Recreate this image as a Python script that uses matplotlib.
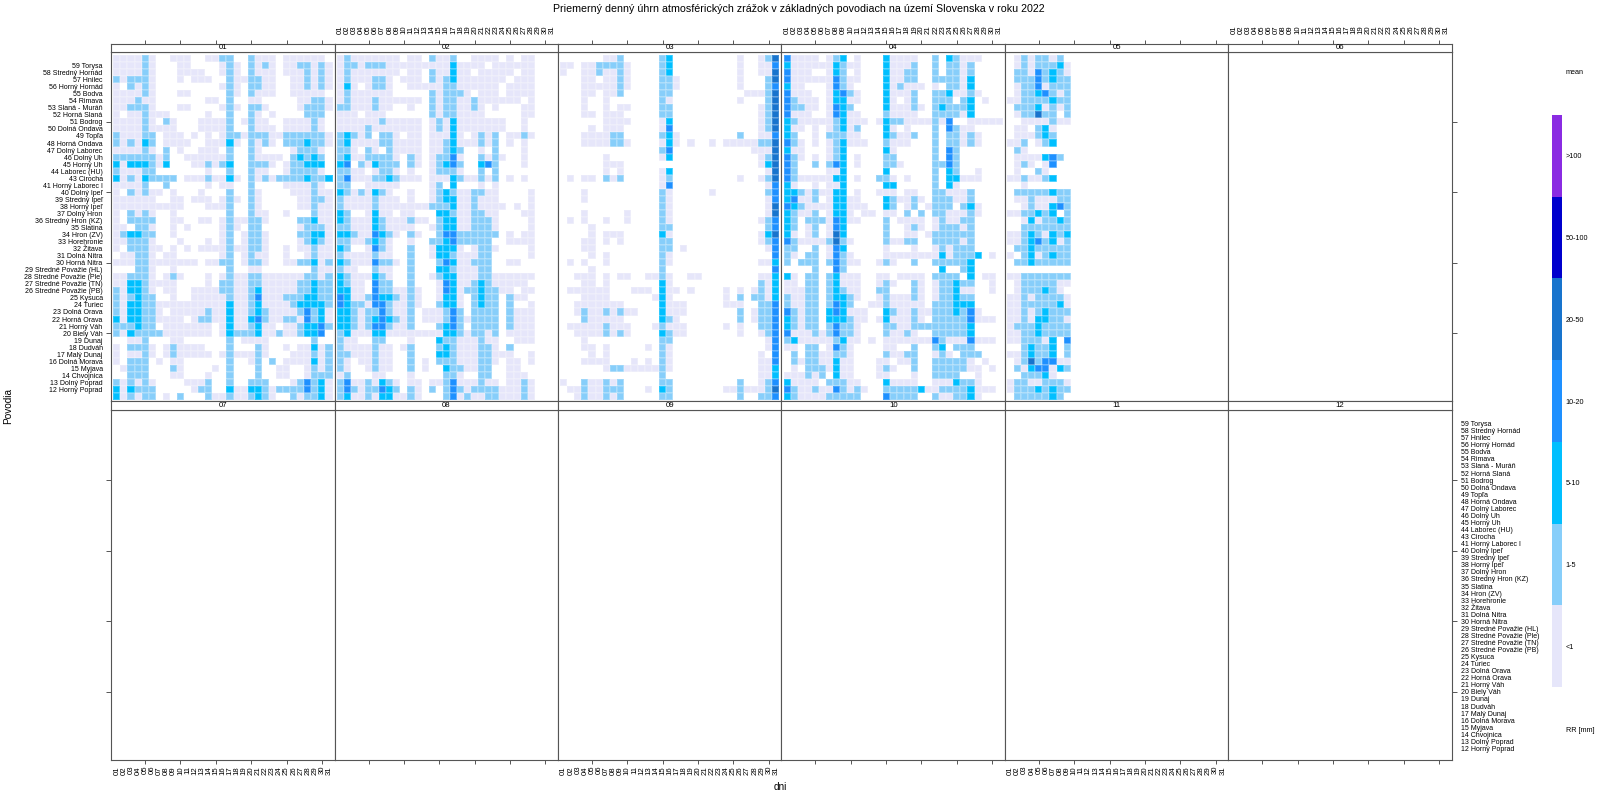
import numpy as np
import matplotlib
matplotlib.use("Agg")
import matplotlib.pyplot as plt
from matplotlib.colors import ListedColormap, BoundaryNorm

plt.rcParams['font.family'] = ['Liberation Sans', 'DejaVu Sans']

TITLE = "Priemerný denný úhrn atmosférických zrážok v základných povodiach na území Slovenska v roku 2022"
basins = ["", "59 Torysa", "58 Stredný Hornád", "57 Hnilec", "56 Horný Hornád", "55 Bodva", "54 Rimava",
          "53 Slaná - Muráň", "52 Horná Slaná", "51 Bodrog", "50 Dolná Ondava", "49 Topľa", "48 Horná Ondava",
          "47 Dolný Laborec", "46 Dolný Uh", "45 Horný Uh", "44 Laborec (HU)", "43 Cirocha", "41 Horný Laborec I",
          "40 Dolný Ipeľ", "39 Stredný Ipeľ", "38 Horný Ipeľ", "37 Dolný Hron", "36 Stredný Hron (KZ)", "35 Slatina",
          "34 Hron (ZV)", "33 Horehronie", "32 Žitava", "31 Dolná Nitra", "30 Horná Nitra",
          "29 Stredné Považie (HL)", "28 Stredné Považie (Ple)", "27 Stredné Považie (TN)", "26 Stredné Považie (PB)",
          "25 Kysuca", "24 Turiec", "23 Dolná Orava", "22 Horná Orava", "21 Horný Váh", "20 Biely Váh", "19 Dunaj",
          "18 Dudváh", "17 Malý Dunaj", "16 Dolná Morava", "15 Myjava", "14 Chvojnica", "13 Dolný Poprad",
          "12 Horný Poprad", ""]
months = ["01", "02", "03", "04", "05", "06", "07", "08", "09", "10", "11", "12"]
days = [f"{d:02d}" for d in range(1, 32)]
class_labels = ["<1", "1-5", "5-10", "10-20", "20-50", "50-100", ">100"]
class_colors = ["#E6E6FA", "#87CEFA", "#00BFFF", "#1E90FF", "#1874CD", "#0000CD", "#8A2BE2"]

# rainfall class per basin (rows) and day (columns): 0 none, 1 <1, 2 1-5, 3 5-10, 4 10-20, 5 20-50
jan = """11112 10011 10011 22002 11101 11111 0
11112 10001 10000 12102 12101 12212 1
11112 10001 11100 12102 11101 11212 1
21222 10001 01110 02112 21100 11212 1
10212 10000 00000 12102 21100 11212 1
11112 10001 10000 02102 11100 11111 0
11121 10000 00011 02001 10000 01122 1
11222 10001 10000 12102 21000 01222 1
10112 11100 00010 02002 10100 00222 0
11112 10210 00111 12012 11001 11121 0
11112 11110 00111 12002 11101 11121 0
21112 20111 01010 12212 22112 22222 1
21213 20111 10011 13102 12102 22322 1
11112 10201 00111 02002 10000 12221 0
22222 21200 11111 12002 11110 23232 0
31333 21300 01121 23002 22101 22333 0
21112 20000 00010 02002 11001 22221 0
31213 22220 11121 13102 12122 22322 3
11112 00200 00010 11002 00001 11121 0
10212 11010 00100 02002 10000 11121 1
11111 10011 01110 12102 10000 01122 1
11111 11111 00011 12002 10000 01121 1
10212 10010 00000 02002 11001 00021 1
10222 20011 00110 12112 21000 02231 1
11022 10010 10000 12102 20000 01222 1
12332 20010 00000 12012 21000 02233 1
11222 10001 00010 12012 21000 01232 1
10222 11010 10111 12112 21001 01121 1
01122 10110 00000 12012 11001 00121 1
11122 11111 11011 22012 21001 12231 2
00022 10010 00000 02001 10000 00021 1
11222 10121 00010 12112 21111 11221 2
11332 11110 00010 22112 21111 12232 2
21332 10110 01111 22112 31111 12232 2
21232 20010 01111 12112 41112 22332 2
21332 21111 11111 13112 31111 23333 2
21332 21011 11121 13112 32111 12423 1
31332 21111 01221 13113 42112 21423 1
22232 20111 11110 13112 31101 12334 2
21322 22111 11110 13222 31121 12334 0
00112 00011 00000 02011 11000 00020 0
10222 10121 11100 02000 21001 01131 2
10112 10121 11110 12111 21000 11121 2
10222 01011 00000 02001 20201 11131 2
01222 00021 00001 02000 20011 00121 2
00222 00011 00010 02000 20011 00122 2
21212 10000 11120 02002 22000 12423 1
31322 20000 01220 03113 32122 22423 1
31212 20102 00021 12112 32100 21223 1"""

feb = """12111 11110 11021 12001 11101 01100 0
12212 22111 11111 13111 10111 11100 0
12111 11110 11021 13110 11111 01100 0
12111 22101 11021 23111 11110 11100 0
13101 22100 11111 22111 11101 11100 0
12111 11100 00021 22210 11101 11100 0
12111 21111 11021 22112 11111 10100 0
22111 21100 10021 22112 10100 01100 0
11101 11000 00021 22111 10000 01100 0
11111 12111 11012 13111 11110 01000 0
11112 11111 11012 13111 11110 01000 0
23212 02210 11011 13101 21201 12100 0
23111 12211 11011 23111 21201 01000 0
22102 10211 11011 23200 10200 01000 0
23112 22210 21012 24100 21210 01000 0
34021 32220 21012 34200 34200 01000 0
22110 12210 10012 22100 20200 00000 0
24111 22321 11011 13211 21201 01000 0
22001 11110 00012 03000 10100 00000 0
32121 32100 10012 32112 21100 00100 0
21111 21110 10012 33112 11100 00100 0
21111 21111 11122 23112 11110 10100 0
32001 31101 10003 32112 21100 01100 0
32111 32111 21102 33112 22100 00100 0
22111 32111 10012 33112 22100 00100 0
33211 43210 21002 44222 22201 01100 0
22112 32100 10022 34222 22001 11100 0
32001 42100 20013 33101 22100 00100 0
21111 21100 20013 32111 22000 00100 0
32111 42210 20002 43112 22001 10000 0
21100 21100 20003 32111 22000 00000 0
32111 32100 20012 33111 22111 11100 0
32110 42200 20001 43112 32111 11000 0
33110 42211 21001 43122 32211 01100 0
43112 43321 21001 33102 32202 11000 0
43221 44211 21002 33102 32202 00100 0
33212 24211 20111 24202 22202 11100 0
33212 34321 20111 24212 22202 11100 0
33212 44211 20002 34202 22202 11100 0
23111 33111 11111 33212 21201 11100 0
21100 22000 10003 22111 21100 11100 0
21111 21101 20002 32111 22102 00000 0
22111 21100 20003 32111 22111 00100 0
21011 21100 20102 22111 22101 10100 0
21001 21100 20100 32211 22001 10000 0
12000 11000 10000 22100 22001 11000 0
24112 13210 11011 24111 21101 12100 0
24212 24320 21020 24212 22211 12100 0
23112 13311 21000 24121 12211 12100 0"""

mar = """00000 01120 00002 30000 00000 10012 5
11011 22221 00002 30000 00000 10011 4
10011 21121 00002 30000 00000 10011 5
00011 01121 00002 21000 00000 10002 5
00011 11121 00002 21000 00000 10002 4
00011 01120 00002 20000 00000 01112 5
00010 01000 00002 10000 00000 10002 5
00010 01011 00002 20000 00000 00012 5
00011 01110 00002 20000 00000 00012 5
00000 01111 00001 30000 00000 00012 5
00001 01110 00001 40000 00000 00012 5
00011 11220 00002 31000 00000 20011 4
00011 11221 00001 31010 01011 11122 5
00000 00000 00002 40000 00000 00111 5
00000 01000 00001 30000 00000 00012 5
00000 01110 00000 00000 00000 00013 5
00000 01010 00001 30000 00000 00001 5
01011 02120 00001 20000 00000 10012 5
00000 00000 00001 40000 00000 00001 4
00010 00000 00002 10000 01000 00002 4
00010 00000 00002 10000 00000 00001 4
00000 00000 00002 10000 00000 00001 5
00010 00001 00002 10000 00000 00001 5
01010 01001 00002 10000 00000 00012 4
00001 00000 00002 20000 00000 00002 4
00001 01110 00003 10000 00000 00013 5
00011 01010 00002 20000 00000 00012 4
00011 00000 00002 20100 00000 00001 4
00001 01000 00002 10000 00000 00000 4
01010 01000 00002 10000 00000 00011 3
00001 00000 00002 00000 00000 00000 4
00111 01011 00112 10011 00000 00011 3
00011 01000 00003 10000 00000 00021 3
01111 11000 11103 11010 00010 10121 3
00011 11000 00013 10000 00010 20221 3
00111 11110 00003 11100 00011 10022 4
00121 12121 10003 11100 00000 20122 4
00021 11110 00003 21000 00000 20122 4
01111 12111 00012 11100 00010 10022 4
00111 12121 00003 21100 00000 10012 4
00010 00000 00002 20000 00000 00001 4
00011 01000 00102 10000 00000 00001 4
00001 01000 00002 10000 00000 00010 4
00011 11000 10102 10000 00000 00011 4
00000 01221 11112 10000 00000 00011 3
00000 00000 00002 00000 00000 00011 3
10021 12120 00002 20000 00000 20012 4
01121 12220 00103 20000 00011 21112 5
00121 12120 00002 20000 00000 20022 4"""

apr = """41111 01230 10003 11110 02032 11100 0
31111 11321 10003 11120 02022 12000 0
41110 01320 10003 11220 02022 12000 0
41111 11421 10003 11220 02222 13000 0
31100 01421 00003 12111 01022 13000 0
41110 01342 10003 11120 02231 12100 0
42111 01331 10003 10120 02220 23010 0
42211 01432 00003 11121 02322 23000 0
41110 01431 10002 11110 02222 13000 0
32111 11231 11013 22111 12140 01111 1
31101 01231 20003 10100 02042 11000 0
32001 02221 10003 21120 02022 12100 0
42101 01231 11002 11100 02022 12100 0
31100 01230 00003 10000 02042 00000 0
42101 01230 10002 20000 02042 00000 0
42002 02430 10002 21000 02242 00000 0
42000 01130 00003 00000 02032 00100 0
42111 11330 10022 10100 02033 11100 0
31001 01130 00003 30000 02031 00000 0
33212 11330 10011 10110 02211 12000 0
34112 01331 10003 21121 02221 12000 0
43211 11331 11003 20120 12220 23100 0
32112 01331 01101 10202 02211 12100 0
32022 21431 10002 01111 01211 22000 0
32012 01430 00002 00121 01222 12000 0
31012 01530 00002 00110 12222 22000 0
42111 12521 00002 11220 02222 12000 0
22002 01430 00001 00010 01212 22000 0
21022 01421 00001 11111 11312 22301 0
20222 02421 10012 10020 02222 23000 0
00002 00420 00000 00000 00300 23000 0
31022 02311 10011 01111 02222 03011 0
11022 02311 10012 10021 01223 22001 0
11122 02321 10022 00021 01223 11001 0
21122 02332 10012 11121 01223 22000 0
21122 02432 00112 11111 02223 33000 0
42122 03431 11003 21121 12223 24100 0
32122 03332 11013 11121 02222 24111 0
32122 02422 10002 21122 22222 23000 0
41112 12422 10002 11210 02222 23000 0
23111 11231 10101 11111 14211 14111 0
11022 01421 00001 10020 02302 22000 0
02022 11221 00002 11220 01210 22200 0
02122 11311 00011 01120 02222 21010 0
01022 21311 00012 10020 02222 21101 0
11121 20311 00011 00010 02222 00100 0
31111 02221 10003 11110 01113 22100 0
42112 11421 21002 22223 11222 23111 0
32111 12222 20004 22220 02112 23100 0"""

may = """01212 21200
01212 22310
02214 23210
02224 23220
01224 12220
01223 42120
11222 23220
02223 12120
01225 22020
00111 12110
01102 31000
01112 32000
11201 23000
02100 00000
01111 34200
01210 14000
01002 10000
11211 23000
00100 00000
02222 23220
01121 11220
00121 13420
11223 23020
00131 22320
00222 22220
11232 13230
11234 23120
02232 22220
10231 23220
02232 22220
00000 00000
11222 22220
01222 22110
01222 32100
11212 22210
11222 22310
11212 32220
11213 32210
12223 22220
11223 22220
11222 13040
00232 23020
11232 23020
01252 44110
02134 41320
00222 31000
12211 22210
12223 23220
02222 23200"""

monthly = {0: jan, 1: feb, 2: mar, 3: apr, 4: may}


def to_matrix(text):
    rows = [ln.replace(" ", "").ljust(31, "0")[:31] for ln in text.splitlines()]
    rows = (rows + ["0" * 31] * 49)[:49]
    return np.ma.masked_equal(np.array([[int(c) for c in r] for r in rows]), 0)


W, H = 1600, 800
fig = plt.figure(figsize=(16, 8), dpi=100)
INK = "#555555"
FS = 5.0
XFS = 5.6
PX = 72 / 100


def axes_px(x0, y0, x1, y1):
    return fig.add_axes([x0 / W, 1 - y1 / H, (x1 - x0) / W, (y1 - y0) / H])


cmap = ListedColormap(class_colors)
norm = BoundaryNorm(np.arange(0.5, 8.5), cmap.N)
X0, PW = 111.2, 223.43
ROWS = [(43.5, 52, 401), (401, 410, 760)]
xl = (0.5 - 2.1 / 7.13, 31.5 + 2.1 / 7.13)
yl = (49 + 1 / 7.04, -3 / 7.04)
xe = np.arange(0.5, 32.5)
ye = np.arange(0, 50)
xc = np.arange(1, 32)
yc = np.arange(49) + 0.5
xminor = [5, 10, 15, 20, 25, 30]
yminor = [9.5, 19.5, 29.5, 39.5]

for m, label in enumerate(months):
    row, col = divmod(m, 6)
    top, mid, bot = ROWS[row]
    x0, x1 = X0 + col * PW, X0 + (col + 1) * PW
    ax = axes_px(x0, mid, x1, bot)
    st = axes_px(x0, top, x1, mid)
    for a in (ax, st):
        a.set_xlim(*xl)
        a.xaxis.remove_overlapping_locs = False
        a.yaxis.remove_overlapping_locs = False
        for s in a.spines.values():
            s.set_color(INK)
            s.set_linewidth(0.8)
        a.tick_params(which="both", colors=INK, width=0.7, labelcolor="black")
        a.set_xticks([])
        a.set_yticks([])
    ax.set_ylim(*yl)
    st.set_ylim(0, 1)
    st.text(0.5, 0.5, label, transform=st.transAxes, ha="center", va="center", fontsize=XFS)
    if m in monthly:
        ax.pcolormesh(xe, ye, to_matrix(monthly[m]), cmap=cmap, norm=norm,
                      edgecolors=(1, 1, 1, 0.18), linewidth=0.3)
    # x axis
    xaxis_ax = st if row == 0 else ax
    labelled = (col % 2 == 1) if row == 0 else (col % 2 == 0)
    xaxis_ax.set_xticks(xminor, minor=True)
    if labelled:
        xaxis_ax.set_xticks(xc)
        xaxis_ax.set_xticklabels(days, rotation=90, fontsize=XFS)
    if row == 0:
        xaxis_ax.xaxis.tick_top()
        xaxis_ax.tick_params(axis="x", which="minor", top=True, bottom=False, length=4 * PX)
        xaxis_ax.tick_params(axis="x", which="major", top=False, bottom=False, length=0,
                             labeltop=labelled, labelbottom=False, pad=9 * PX)
    else:
        xaxis_ax.tick_params(axis="x", which="minor", bottom=True, top=False, length=4 * PX)
        xaxis_ax.tick_params(axis="x", which="major", bottom=False, length=0,
                             labelbottom=labelled, pad=6 * PX)
    # y axis
    if col in (0, 5):
        ax.set_yticks(yminor, minor=True)
    if col == 0:
        ax.tick_params(axis="y", which="minor", left=True, right=False, length=5 * PX)
        if row == 0:
            ax.set_yticks(yc)
            ax.set_yticklabels(basins, fontsize=FS)
            ax.tick_params(axis="y", which="major", left=False, length=0, pad=8.5 * PX)
    if col == 5:
        ax.yaxis.tick_right()
        ax.tick_params(axis="y", which="minor", right=True, left=False, length=5 * PX)
        if row == 1:
            ax.set_yticks(yc)
            ax.set_yticklabels(basins, fontsize=FS)
            ax.tick_params(axis="y", which="major", right=False, left=False, length=0,
                           labelright=True, labelleft=False, pad=9 * PX)

# legend key
key = axes_px(1552.3, 115, 1562.3, 687)
levels = np.arange(1, 8)
key.pcolormesh([0, 1], np.arange(0.5, 8.5), levels[:, None], cmap=cmap, norm=norm)
key.set_xlim(0, 1)
key.set_ylim(0.5, 7.5)
key.set_xticks([])
key.set_yticks(levels)
key.set_yticklabels(class_labels, fontsize=FS + 0.2)
key.yaxis.tick_right()
key.tick_params(axis="y", length=0, pad=3.4 * PX)
for s in key.spines.values():
    s.set_visible(False)

fig.text(1565.7 / W, 1 - 72 / H, "mean", fontsize=FS + 0.2, ha="left", va="center")
fig.text(1565.7 / W, 1 - 730 / H, "RR [mm]", fontsize=FS + 0.2, ha="left", va="center")
fig.text(799 / W, 1 - 9 / H, TITLE, fontsize=7.65, ha="center", va="center")
fig.text(8 / W, 1 - 406 / H, "Povodia", fontsize=7.2, rotation=90, ha="center", va="center")
fig.text(780.5 / W, 1 - 787 / H, "dni", fontsize=7.2, ha="center", va="center")

fig.savefig("out.png", dpi=100, facecolor="white")
